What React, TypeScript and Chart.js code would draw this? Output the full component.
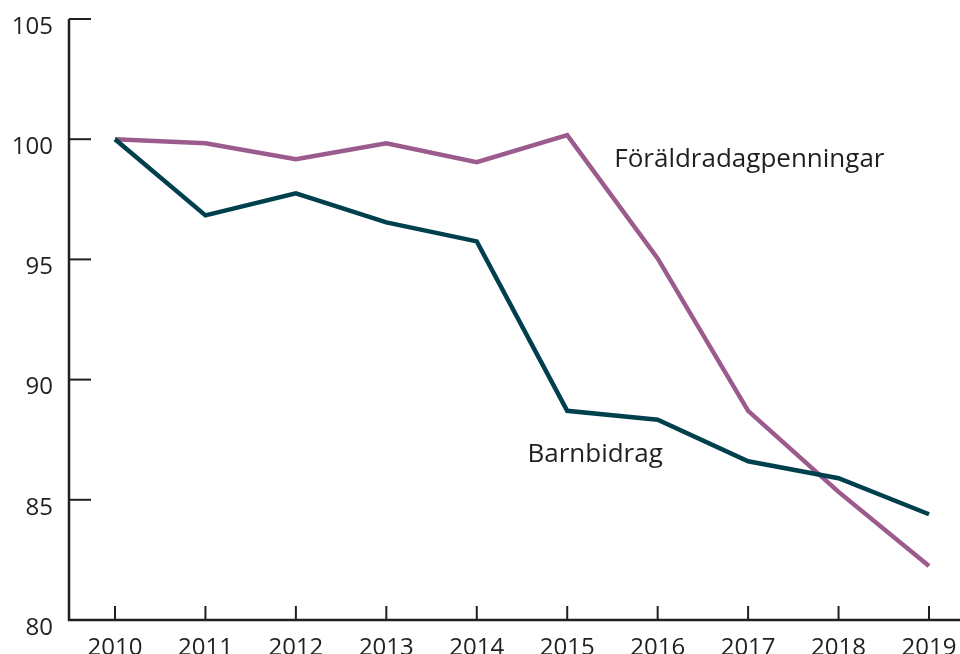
import React, { useEffect, useRef } from "react";
import { Chart, registerables } from "chart.js";

Chart.register(...registerables);

const years = [2010, 2011, 2012, 2013, 2014, 2015, 2016, 2017, 2018, 2019];
const barnbidrag = [100, 96.83, 97.75, 96.54, 95.75, 88.7, 88.33, 86.6, 85.9, 84.4];
const foraldradagpenningar = [100, 99.83, 99.17, 99.83, 99.04, 100.17, 95.04, 88.7, 85.33, 82.25];
const yTicks = [80, 85, 90, 95, 100, 105];
const seriesLabels = ["Barnbidrag", "Föräldradagpenningar"];
const labelAnchors = [
  { x: 2014.56, y: 86.58 },
  { x: 2015.52, y: 98.83 },
];

const TEAL = "#00404d";
const PURPLE = "#9b5b8d";
const INK = "#231f20";
const FONT = "'Open Sans', sans-serif";

const zeroPad = (s: any) => {
  s.paddingTop = 0;
  s.paddingBottom = 0;
  s.paddingLeft = 0;
  s.paddingRight = 0;
};

export default function App() {
  const ref = useRef<HTMLCanvasElement>(null);
  useEffect(() => {
    document.body.style.margin = "0";
    const canvas = ref.current!;
    const axesPlugin = {
      id: "customAxes",
      afterDraw(chart: any) {
        const ctx = chart.ctx;
        const xs = chart.scales.x;
        const ys = chart.scales.y;
        const { left, right, top, bottom } = chart.chartArea;
        ctx.save();
        ctx.strokeStyle = INK;
        ctx.lineWidth = 2.5;
        ctx.beginPath();
        ctx.moveTo(left, top);
        ctx.lineTo(left, bottom);
        ctx.lineTo(right, bottom);
        ctx.stroke();
        ctx.lineWidth = 2;
        for (const v of yTicks) {
          const py = ys.getPixelForValue(v);
          ctx.beginPath();
          ctx.moveTo(left, py);
          ctx.lineTo(left + 22, py);
          ctx.stroke();
        }
        for (const yr of years) {
          const px = xs.getPixelForValue(yr);
          ctx.beginPath();
          ctx.moveTo(px, bottom);
          ctx.lineTo(px, bottom - 14);
          ctx.stroke();
        }
        ctx.fillStyle = INK;
        ctx.font = `26px ${FONT}`;
        ctx.textAlign = "left";
        ctx.textBaseline = "alphabetic";
        seriesLabels.forEach((lab, i) => {
          const a = labelAnchors[i];
          ctx.fillText(lab, xs.getPixelForValue(a.x), ys.getPixelForValue(a.y));
        });
        ctx.restore();
      },
    };
    const chart = new Chart(canvas, {
      type: "line",
      data: {
        datasets: [
          {
            label: seriesLabels[0],
            data: years.map((y, i) => ({ x: y, y: barnbidrag[i] })),
            borderColor: TEAL,
            borderWidth: 4.5,
            pointRadius: 0,
            tension: 0,
          },
          {
            label: seriesLabels[1],
            data: years.map((y, i) => ({ x: y, y: foraldradagpenningar[i] })),
            borderColor: PURPLE,
            borderWidth: 4.5,
            pointRadius: 0,
            tension: 0,
          },
        ],
      },
      options: {
        animation: false,
        responsive: false,
        layout: { padding: { top: 19, left: 0, right: 0, bottom: 0 } },
        plugins: { legend: { display: false }, tooltip: { enabled: false } },
        scales: {
          x: {
            type: "linear",
            min: 2009.4914,
            max: 2019.3428,
            grid: { display: false, drawTicks: false },
            border: { display: false },
            afterBuildTicks: (s: any) => {
              s.ticks = years.map((v) => ({ value: v }));
            },
            afterFit: (s: any) => {
              s.height = 34;
              zeroPad(s);
            },
            ticks: {
              padding: 14,
              color: INK,
              font: { family: FONT, size: 24 },
              callback: (v: any) => String(v),
              maxRotation: 0,
              autoSkip: false,
            },
          },
          y: {
            min: 80,
            max: 105,
            grid: { display: false, drawTicks: false },
            border: { display: false },
            afterBuildTicks: (s: any) => {
              s.ticks = yTicks.map((v) => ({ value: v }));
            },
            afterFit: (s: any) => {
              s.width = 69;
              zeroPad(s);
            },
            ticks: {
              padding: 16,
              labelOffset: 8,
              color: INK,
              font: { family: FONT, size: 24 },
            },
          },
        },
      },
      plugins: [axesPlugin],
    });
    return () => chart.destroy();
  }, []);
  return <canvas ref={ref} width={960} height={654} style={{ display: "block" }} />;
}
